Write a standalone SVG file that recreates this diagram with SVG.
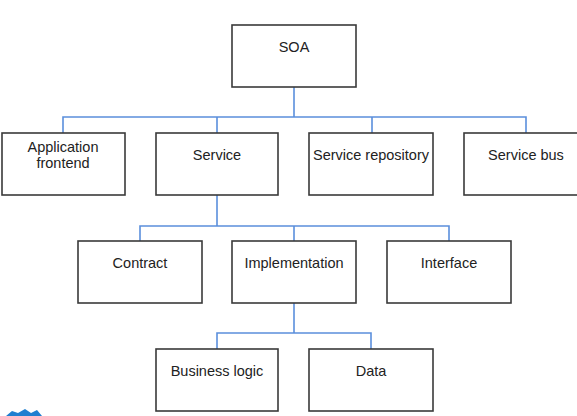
<svg xmlns="http://www.w3.org/2000/svg" width="577" height="416" viewBox="0 0 577 416">
<style>
.box{fill:#fff;stroke:#3a3a3a;stroke-width:1.6}
.lbl{font-family:"Liberation Sans",Arial,sans-serif;font-size:14.5px;fill:#222;text-anchor:middle}
.con{fill:none;stroke:#5b8fdc;stroke-width:1.6}
</style>
<rect width="577" height="416" fill="#fff"/>
<g id="connectors">
<path class="con" d="M294 87V117M63 133V117H526V133M217 117V133M372 117V133"/>
<path class="con" d="M217 195V226M140 241V226H449V241M294 226V241"/>
<path class="con" d="M294 303V333M217 349V333H371V349"/>
</g>
<g id="soa"><rect class="box" x="232" y="25" width="124" height="62"/><text class="lbl" x="294" y="52">SOA</text></g>
<g id="app-frontend"><rect class="box" x="2" y="133" width="123" height="62"/><text class="lbl" x="63" y="152">Application</text><text class="lbl" x="63" y="168">frontend</text></g>
<g id="service"><rect class="box" x="156" y="133" width="122" height="62"/><text class="lbl" x="217" y="160">Service</text></g>
<g id="service-repository"><rect class="box" x="309" y="133" width="124" height="62"/><text class="lbl" x="371" y="160">Service repository</text></g>
<g id="service-bus"><rect class="box" x="464" y="133" width="124" height="62"/><text class="lbl" x="526" y="160">Service bus</text></g>
<g id="contract"><rect class="box" x="78" y="241" width="124" height="62"/><text class="lbl" x="140" y="268">Contract</text></g>
<g id="implementation"><rect class="box" x="232" y="241" width="124" height="62"/><text class="lbl" x="294" y="268">Implementation</text></g>
<g id="interface"><rect class="box" x="387" y="241" width="124" height="62"/><text class="lbl" x="449" y="268">Interface</text></g>
<g id="business-logic"><rect class="box" x="156" y="349" width="122" height="62"/><text class="lbl" x="217" y="376">Business logic</text></g>
<g id="data"><rect class="box" x="309" y="349" width="124" height="62"/><text class="lbl" x="371" y="376">Data</text></g>
<path d="M6 416L12 411L18 413L25 409L31 413L37 410L42 416Z" fill="#1f7fd0"/>
</svg>
